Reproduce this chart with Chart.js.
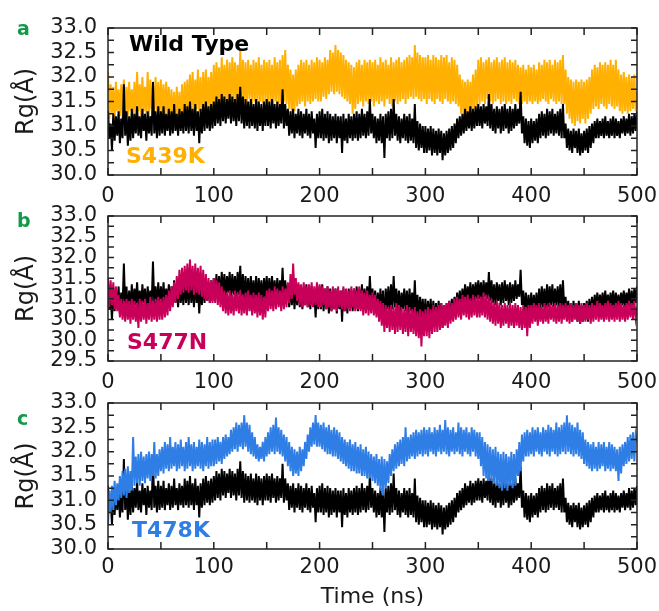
<!DOCTYPE html>
<html>
<head>
<meta charset="utf-8">
<title>Rg vs time</title>
<script src="https://cdn.jsdelivr.net/npm/chart.js@4.4.1/dist/chart.umd.min.js"></script>
<style>
  body { margin: 0; background: #fff; }
  #wrap { position: relative; width: 659px; height: 611px; overflow: hidden; font-family: "DejaVu Sans", sans-serif; }
  canvas { position: absolute; left: 0; }
  .tag { position: absolute; font-weight: bold; line-height: 1; white-space: nowrap; }
  .panel { color: #129a4a; font-size: 19px; }
  .name { font-size: 22px; }
</style>
</head>
<body>
<div id="wrap">
  <canvas id="chartA" width="659" height="205" style="top:0px"></canvas>
  <canvas id="chartB" width="659" height="190" style="top:200px"></canvas>
  <canvas id="chartC" width="659" height="226" style="top:385px"></canvas>

  <div class="tag panel" style="left:17px;top:19px">a</div>
  <div class="tag panel" style="left:17px;top:211px">b</div>
  <div class="tag panel" style="left:17px;top:409px">c</div>

  <div class="tag name" style="left:129px;top:33px;color:#000">Wild Type</div>
  <div class="tag name" style="left:126px;top:145px;color:#ffb000">S439K</div>
  <div class="tag name" style="left:127px;top:331px;color:#c8005a">S477N</div>
  <div class="tag name" style="left:132px;top:519px;color:#2f7ee6">T478K</div>
</div>

<script>

// one stored frame every 1.25 ns, 0 .. 500 ns (one row below = 50 ns)
var timeStep = 1.25;

// tick labels
var xTicks = [0, 100, 200, 300, 400, 500];
var xMarks = [0, 50, 100, 150, 200, 250, 300, 350, 400, 450, 500];
var yTicksA = [30.0, 30.5, 31.0, 31.5, 32.0, 32.5, 33.0];
var yTicksB = [29.5, 30.0, 30.5, 31.0, 31.5, 32.0, 32.5, 33.0];
var yTicksC = [30.0, 30.5, 31.0, 31.5, 32.0, 32.5, 33.0];

// Rg (Angstrom)
var wildType = [
  31.3, 30.75, 31.05, 30.5, 31.25, 30.7, 31.2, 30.8, 31.3, 30.65, 31.15, 30.75, 31.85, 30.8, 31.3, 30.6, 31.2, 30.7, 31.35, 30.75,
  31.25, 30.85, 31.4, 30.8, 31.2, 30.75, 31.35, 30.9, 31.25, 30.7, 31.3, 30.85, 31.2, 30.8, 31.9, 30.85, 31.3, 30.75, 31.4, 30.8,
  31.3, 30.85, 31.4, 30.8, 31.25, 30.9, 31.35, 30.8, 31.3, 30.85, 31.45, 30.9, 31.25, 30.8, 31.35, 30.9, 31.3, 30.85, 31.45, 30.9,
  31.4, 30.85, 31.5, 30.9, 31.35, 30.8, 31.45, 30.9, 31.3, 30.65, 31.35, 30.85, 31.45, 30.9, 31.5, 30.95, 31.4, 30.9, 31.45, 30.95,
  31.5, 31.0, 31.6, 31.05, 31.55, 31.0, 31.65, 31.1, 31.6, 31.05, 31.55, 31.15, 31.65, 31.05, 31.6, 31.1, 31.55, 31.0, 31.65, 31.1,
  31.8, 31.05, 31.6, 30.95, 31.55, 31.0, 31.5, 30.95, 31.55, 31.0, 31.45, 30.95, 31.55, 30.9, 31.5, 31.0, 31.45, 30.9, 31.5, 31.0,
  31.55, 31.0, 31.5, 30.95, 31.55, 31.05, 31.45, 30.95, 31.5, 31.0, 31.45, 31.05, 31.75, 30.95, 31.45, 31.0, 31.35, 30.8, 31.3, 30.85,
  31.35, 30.75, 31.25, 30.85, 31.35, 30.8, 31.3, 30.75, 31.25, 30.85, 31.35, 30.8, 31.25, 30.75, 31.3, 30.85, 31.15, 30.55, 31.25, 30.75,
  31.3, 30.75, 31.35, 30.7, 31.25, 30.75, 31.3, 30.65, 31.25, 30.7, 31.2, 30.75, 31.25, 30.65, 31.2, 30.75, 31.2, 30.45, 31.25, 30.7,
  31.15, 30.65, 31.25, 30.75, 31.2, 30.7, 31.25, 30.75, 31.3, 30.7, 31.25, 30.75, 31.35, 30.8, 31.25, 30.75, 31.3, 30.8, 31.55, 30.85,
  31.25, 30.75, 31.2, 30.65, 31.15, 30.7, 31.25, 30.65, 31.2, 30.35, 31.25, 30.75, 31.3, 30.7, 31.35, 30.75, 31.55, 30.8, 31.25, 30.7,
  31.2, 30.65, 31.15, 30.75, 31.25, 30.7, 31.2, 30.65, 31.25, 30.7, 31.15, 30.65, 31.45, 30.55, 31.1, 30.5, 31.05, 30.55, 31.0, 30.45,
  31.0, 30.45, 30.95, 30.5, 31.0, 30.4, 30.95, 30.45, 30.9, 30.4, 30.95, 30.45, 30.9, 30.3, 30.85, 30.4, 30.9, 30.45, 30.95, 30.5,
  31.0, 30.55, 31.05, 30.65, 31.15, 30.75, 31.2, 30.8, 31.25, 30.85, 31.35, 30.9, 31.3, 30.95, 31.4, 30.9, 31.35, 30.95, 31.4, 31.0,
  31.45, 31.0, 31.4, 30.95, 31.45, 31.05, 31.4, 31.0, 31.65, 30.95, 31.45, 30.9, 31.35, 30.85, 31.4, 30.95, 31.35, 30.85, 31.4, 30.9,
  31.45, 30.95, 31.35, 30.85, 31.4, 30.9, 31.35, 30.95, 31.45, 31.0, 31.35, 31.05, 31.7, 30.85, 31.2, 30.65, 31.15, 30.6, 31.1, 30.55,
  31.15, 30.65, 31.1, 30.7, 31.15, 30.65, 31.25, 30.75, 31.3, 30.8, 31.25, 30.75, 31.35, 30.8, 31.3, 30.85, 31.35, 30.8, 31.25, 30.85,
  31.3, 30.8, 31.35, 30.75, 31.45, 30.75, 31.05, 30.55, 30.95, 30.5, 30.9, 30.45, 30.95, 30.55, 30.9, 30.45, 30.95, 30.4, 30.85, 30.45,
  30.9, 30.5, 30.95, 30.45, 31.0, 30.55, 31.05, 30.65, 31.1, 30.75, 31.15, 30.75, 31.1, 30.8, 31.15, 30.75, 31.2, 30.8, 31.1, 30.75,
  31.15, 30.8, 31.2, 30.75, 31.15, 30.8, 31.1, 30.75, 31.15, 30.85, 31.2, 30.8, 31.15, 30.85, 31.25, 30.8, 31.2, 30.85, 31.25, 30.9,
  31.3
];

var s439k = [
  32.1, 31.15, 31.85, 31.25, 31.8, 31.1, 31.9, 31.3, 31.75, 31.2, 31.85, 31.15, 31.95, 31.25, 31.8, 31.2, 31.9, 31.3, 31.75, 31.15,
  31.9, 31.25, 32.1, 31.3, 31.85, 31.2, 32.0, 31.3, 31.8, 31.25, 32.1, 31.2, 31.95, 31.35, 31.85, 31.25, 32.0, 31.3, 31.9, 31.2,
  31.95, 31.25, 31.85, 31.15, 31.9, 31.25, 31.8, 31.1, 31.75, 31.05, 31.7, 30.95, 31.8, 31.05, 31.7, 31.0, 31.85, 31.1, 31.9, 31.15,
  31.95, 31.25, 32.05, 31.3, 32.1, 31.2, 31.95, 31.35, 32.15, 31.3, 32.0, 31.25, 32.1, 31.35, 32.15, 31.3, 32.0, 31.35, 32.1, 31.3,
  32.25, 31.35, 32.3, 31.45, 32.2, 31.4, 32.4, 31.45, 32.25, 31.5, 32.35, 31.4, 32.3, 31.45, 32.4, 31.5, 32.3, 31.4, 32.25, 31.5,
  32.55, 31.45, 32.35, 31.5, 32.3, 31.4, 32.35, 31.55, 32.25, 31.45, 32.35, 31.5, 32.3, 31.4, 32.4, 31.5, 32.25, 31.45, 32.35, 31.5,
  32.3, 31.45, 32.35, 31.5, 32.25, 31.4, 32.4, 31.5, 32.3, 31.45, 32.35, 31.4, 32.45, 31.5, 32.55, 31.45, 32.25, 31.35, 32.15, 31.25,
  32.05, 31.3, 32.15, 31.4, 32.25, 31.45, 32.35, 31.5, 32.3, 31.4, 32.35, 31.5, 32.25, 31.45, 32.35, 31.5, 32.3, 31.55, 32.4, 31.5,
  32.35, 31.5, 32.3, 31.6, 32.4, 31.55, 32.35, 31.65, 32.55, 31.7, 32.5, 31.65, 32.65, 31.7, 32.55, 31.65, 32.5, 31.6, 32.45, 31.55,
  32.35, 31.5, 32.3, 31.45, 32.25, 31.25, 32.2, 31.35, 32.3, 31.45, 32.35, 31.5, 32.25, 31.4, 32.35, 31.5, 32.3, 31.45, 32.35, 31.5,
  32.3, 31.4, 32.35, 31.5, 32.25, 31.45, 32.4, 31.5, 32.3, 31.4, 32.35, 31.55, 32.25, 31.45, 32.4, 31.4, 32.3, 31.5, 32.35, 31.45,
  32.4, 31.5, 32.3, 31.55, 32.35, 31.45, 32.4, 31.55, 32.45, 31.6, 32.4, 31.55, 32.65, 31.6, 32.5, 31.55, 32.45, 31.5, 32.4, 31.55,
  32.4, 31.45, 32.45, 31.55, 32.35, 31.5, 32.45, 31.45, 32.4, 31.55, 32.35, 31.5, 32.45, 31.45, 32.4, 31.55, 32.45, 31.5, 32.3, 31.45,
  32.4, 31.5, 32.35, 31.45, 32.25, 31.4, 32.05, 31.25, 31.95, 31.15, 31.9, 31.2, 31.95, 31.25, 31.9, 31.3, 32.05, 31.35, 32.15, 31.4,
  32.35, 31.45, 32.4, 31.5, 32.3, 31.45, 32.35, 31.55, 32.4, 31.5, 32.3, 31.45, 32.35, 31.5, 32.4, 31.55, 32.3, 31.45, 32.35, 31.5,
  32.4, 31.45, 32.3, 31.5, 32.35, 31.45, 32.3, 31.55, 32.35, 31.5, 32.25, 31.45, 32.2, 31.45, 32.25, 31.5, 32.15, 31.45, 32.25, 31.5,
  32.2, 31.45, 32.25, 31.5, 32.15, 31.45, 32.3, 31.5, 32.25, 31.55, 32.35, 31.5, 32.3, 31.45, 32.35, 31.55, 32.25, 31.5, 32.35, 31.45,
  32.3, 31.5, 32.35, 31.45, 32.45, 31.45, 32.15, 31.25, 32.0, 31.15, 31.95, 31.05, 31.9, 31.0, 31.95, 31.1, 31.9, 31.05, 31.95, 31.15,
  31.9, 31.05, 31.95, 31.15, 32.0, 31.25, 32.15, 31.35, 32.25, 31.4, 32.2, 31.35, 32.3, 31.45, 32.25, 31.4, 32.3, 31.35, 32.25, 31.45,
  32.35, 31.4, 32.25, 31.35, 32.35, 31.4, 32.15, 31.3, 32.05, 31.25, 32.1, 31.3, 32.0, 31.25, 32.05, 31.3, 32.0, 31.35, 32.05, 31.3,
  31.7
];

var s477n = [
  31.5, 30.8, 31.45, 30.85, 31.4, 30.75, 31.3, 30.7, 31.1, 30.55, 31.0, 30.5, 30.95, 30.45, 31.0, 30.5, 30.95, 30.4, 31.0, 30.5,
  30.95, 30.45, 30.9, 30.3, 31.0, 30.45, 30.95, 30.5, 31.0, 30.4, 30.9, 30.5, 31.05, 30.45, 30.95, 30.5, 31.0, 30.45, 31.05, 30.5,
  31.0, 30.5, 31.05, 30.55, 31.1, 30.6, 31.2, 30.7, 31.3, 30.8, 31.4, 30.9, 31.55, 31.0, 31.7, 31.1, 31.75, 31.15, 31.8, 31.2,
  31.85, 31.15, 31.95, 31.2, 31.8, 31.1, 31.85, 31.15, 31.75, 31.1, 31.8, 31.05, 31.7, 31.0, 31.6, 30.95, 31.5, 30.9, 31.45, 30.9,
  31.5, 30.9, 31.45, 30.85, 31.4, 30.8, 31.3, 30.7, 31.2, 30.65, 31.15, 30.6, 31.2, 30.65, 31.1, 30.6, 31.2, 30.7, 31.15, 30.65,
  31.2, 30.6, 31.1, 30.65, 31.15, 30.6, 31.2, 30.7, 31.1, 30.6, 31.15, 30.65, 31.1, 30.55, 31.15, 30.6, 31.1, 30.5, 31.05, 30.55,
  31.2, 30.7, 31.25, 30.75, 31.2, 30.7, 31.3, 30.75, 31.25, 30.8, 31.2, 30.7, 31.3, 30.75, 31.25, 30.8, 31.4, 30.9, 31.6, 31.0,
  31.85, 31.1, 31.5, 30.95, 31.4, 30.85, 31.35, 30.8, 31.4, 30.85, 31.3, 30.8, 31.35, 30.85, 31.4, 30.8, 31.3, 30.85, 31.4, 30.8,
  31.35, 30.8, 31.3, 30.85, 31.25, 30.75, 31.3, 30.8, 31.2, 30.7, 31.3, 30.75, 31.25, 30.7, 31.3, 30.8, 31.2, 30.75, 31.3, 30.7,
  31.25, 30.75, 31.2, 30.7, 31.3, 30.8, 31.25, 30.7, 31.2, 30.75, 31.3, 30.7, 31.2, 30.6, 31.15, 30.65, 31.2, 30.6, 31.1, 30.65,
  31.15, 30.6, 31.1, 30.55, 31.0, 30.45, 30.95, 30.35, 30.9, 30.2, 30.85, 30.3, 30.8, 30.2, 30.85, 30.25, 30.8, 30.15, 30.9, 30.2,
  30.85, 30.25, 30.8, 30.15, 30.75, 30.2, 30.85, 30.1, 30.8, 30.2, 30.75, 30.15, 30.8, 30.1, 30.7, 30.05, 30.75, 29.85, 30.7, 30.1,
  30.75, 30.1, 30.8, 30.05, 30.75, 30.15, 30.85, 30.2, 30.8, 30.2, 30.85, 30.25, 30.9, 30.3, 30.85, 30.35, 30.9, 30.3, 30.95, 30.4,
  30.9, 30.45, 31.0, 30.5, 31.05, 30.55, 31.0, 30.5, 31.1, 30.6, 31.05, 30.55, 31.1, 30.5, 31.0, 30.55, 31.1, 30.6, 31.05, 30.55,
  31.1, 30.55, 31.05, 30.6, 31.15, 30.55, 31.1, 30.5, 31.05, 30.45, 31.0, 30.4, 30.9, 30.35, 30.95, 30.4, 30.9, 30.3, 30.85, 30.35,
  30.9, 30.4, 30.85, 30.3, 30.9, 30.35, 30.85, 30.3, 30.9, 30.35, 30.85, 30.3, 30.8, 30.25, 30.85, 30.3, 30.8, 30.1, 30.85, 30.3,
  30.85, 30.4, 30.9, 30.45, 30.85, 30.35, 30.9, 30.45, 30.8, 30.4, 30.9, 30.45, 30.85, 30.4, 30.9, 30.5, 30.85, 30.45, 30.9, 30.4,
  30.85, 30.45, 30.9, 30.4, 30.85, 30.5, 30.9, 30.45, 30.85, 30.4, 30.9, 30.45, 30.85, 30.5, 30.9, 30.45, 30.85, 30.4, 30.9, 30.45,
  30.85, 30.45, 30.9, 30.5, 30.85, 30.4, 30.9, 30.45, 30.85, 30.5, 30.95, 30.45, 30.9, 30.5, 30.85, 30.45, 30.9, 30.5, 30.95, 30.45,
  30.9, 30.5, 30.85, 30.45, 30.9, 30.5, 30.95, 30.45, 30.9, 30.5, 30.85, 30.45, 30.9, 30.5, 30.95, 30.55, 30.9, 30.5, 30.95, 30.55,
  30.8
];

var t478k = [
  30.5, 31.2, 30.75, 31.3, 30.8, 31.4, 30.9, 31.35, 31.0, 31.5, 31.05, 31.6, 31.1, 31.65, 31.05, 31.7, 31.15, 31.6, 31.2, 32.3,
  31.3, 31.9, 31.35, 31.95, 31.3, 32.0, 31.4, 31.9, 31.35, 31.95, 31.45, 32.0, 31.4, 31.95, 31.5, 32.2, 31.45, 31.95, 31.5, 32.05,
  31.6, 32.1, 31.55, 32.2, 31.65, 32.15, 31.6, 32.3, 31.65, 32.1, 31.7, 32.2, 31.6, 32.15, 31.65, 32.25, 31.7, 32.1, 31.6, 32.2,
  31.65, 32.3, 31.7, 32.15, 31.6, 32.2, 31.65, 32.1, 31.7, 32.25, 31.65, 32.2, 31.6, 32.15, 31.7, 32.3, 31.65, 32.2, 31.7, 32.25,
  31.7, 32.25, 31.75, 32.3, 31.8, 32.2, 31.75, 32.3, 31.85, 32.35, 31.9, 32.3, 31.95, 32.45, 32.0, 32.5, 32.05, 32.6, 32.0, 32.55,
  32.1, 32.6, 32.05, 32.75, 32.1, 32.6, 32.0, 32.55, 31.95, 32.4, 31.9, 32.3, 31.85, 32.15, 31.8, 32.1, 31.85, 32.2, 31.8, 32.3,
  31.9, 32.4, 31.95, 32.5, 32.0, 32.55, 31.95, 32.7, 32.0, 32.5, 31.95, 32.45, 31.9, 32.35, 31.8, 32.3, 31.7, 32.2, 31.6, 32.1,
  31.5, 32.05, 31.55, 32.0, 31.5, 32.1, 31.6, 32.05, 31.7, 32.2, 31.85, 32.35, 32.0, 32.5, 32.1, 32.6, 32.15, 32.75, 32.1, 32.6,
  32.1, 32.55, 32.05, 32.6, 32.0, 32.5, 31.95, 32.55, 31.95, 32.45, 31.9, 32.5, 31.9, 32.45, 31.85, 32.4, 31.8, 32.3, 31.75, 32.25,
  31.7, 32.2, 31.65, 32.25, 31.6, 32.15, 31.6, 32.2, 31.55, 32.1, 31.55, 32.15, 31.5, 32.05, 31.5, 32.1, 31.45, 32.0, 31.45, 31.95,
  31.4, 31.9, 31.35, 31.95, 31.3, 31.85, 31.2, 31.9, 31.1, 31.85, 31.25, 31.8, 31.35, 31.95, 31.5, 32.05, 31.6, 32.15, 31.65, 32.2,
  31.7, 32.25, 31.75, 32.3, 31.7, 32.5, 31.8, 32.3, 31.85, 32.35, 31.9, 32.4, 31.85, 32.45, 31.9, 32.4, 31.95, 32.45, 31.9, 32.5,
  31.95, 32.45, 31.9, 32.5, 32.0, 32.4, 31.95, 32.5, 31.9, 32.45, 32.0, 32.55, 31.95, 32.45, 32.0, 32.65, 31.95, 32.5, 31.9, 32.45,
  32.0, 32.5, 31.95, 32.4, 32.0, 32.6, 31.95, 32.5, 31.9, 32.45, 32.0, 32.5, 31.95, 32.4, 31.9, 32.5, 32.0, 32.45, 31.9, 32.4,
  31.85, 32.4, 31.7, 32.3, 31.5, 32.2, 31.45, 32.15, 31.4, 32.1, 31.4, 32.05, 31.35, 32.1, 31.3, 32.0, 31.25, 31.95, 31.2, 32.0,
  31.25, 31.95, 31.2, 31.9, 31.3, 32.0, 31.25, 31.95, 31.3, 32.05, 31.5, 32.2, 31.6, 32.35, 31.8, 32.4, 31.9, 32.45, 31.9, 32.4,
  31.95, 32.5, 31.9, 32.45, 32.0, 32.5, 31.95, 32.4, 31.9, 32.5, 32.0, 32.45, 31.95, 32.55, 31.9, 32.5, 32.0, 32.45, 31.95, 32.6,
  31.9, 32.5, 31.95, 32.55, 32.0, 32.6, 31.95, 32.75, 32.0, 32.6, 31.95, 32.55, 31.9, 32.5, 31.95, 32.6, 31.9, 32.45, 31.85, 32.4,
  31.75, 32.25, 31.7, 32.2, 31.65, 32.15, 31.6, 32.2, 31.65, 32.1, 31.6, 32.2, 31.65, 32.15, 31.7, 32.2, 31.6, 32.1, 31.65, 32.2,
  31.6, 32.15, 31.65, 32.1, 31.6, 32.05, 31.4, 32.1, 31.55, 32.15, 31.7, 32.2, 31.75, 32.3, 31.8, 32.35, 31.85, 32.4, 31.8, 32.35,
  32.2
];

function toPoints(values){
  return values.map(function(v, i){ return { x: i * timeStep, y: v }; });
}

// frame around the plot and the small inward ticks on all four sides
var frameTicks = {
  id: 'frameTicks',
  afterDatasetsDraw: function(chart){
    var ctx = chart.ctx, a = chart.chartArea;
    var xs = chart.scales.x, ys = chart.scales.y;
    var yt = chart.options.scales.y.tickList;
    ctx.save();
    ctx.strokeStyle = '#222';
    ctx.lineWidth = 1.5;
    ctx.beginPath();
    xMarks.forEach(function(t){
      var px = xs.getPixelForValue(t);
      ctx.moveTo(px, a.bottom); ctx.lineTo(px, a.bottom - 7);
      ctx.moveTo(px, a.top); ctx.lineTo(px, a.top + 7);
    });
    for (var i = 0; i < yt.length; i++) {
      var marks = [yt[i]];
      if (i < yt.length - 1) marks.push((yt[i] + yt[i + 1]) / 2);
      marks.forEach(function(v){
        var py = ys.getPixelForValue(v);
        ctx.moveTo(a.left, py); ctx.lineTo(a.left + 6, py);
        ctx.moveTo(a.right, py); ctx.lineTo(a.right - 6, py);
      });
    }
    ctx.stroke();
    ctx.strokeRect(a.left, a.top, a.right - a.left, a.bottom - a.top);
    ctx.restore();
  }
};

function drawPanel(canvasId, mutant, mutColor, yList, mutantOnTop, padTop, axisHeight, tickPad, showTime){

  var wt = { data: toPoints(wildType), borderColor: '#000', borderWidth: 2, pointRadius: 0, tension: 0 };
  var mu = { data: toPoints(mutant), borderColor: mutColor, borderWidth: 2, pointRadius: 0, tension: 0 };

  var ctx = document.getElementById(canvasId).getContext('2d');
  return new Chart(ctx, {
    type: 'line',
    data: {
      // first dataset is painted last, so it ends up on top
      datasets: mutantOnTop ? [mu, wt] : [wt, mu]
    },
    plugins: [frameTicks],
    options: {
      responsive: false,
      animation: false,
      layout: { padding: { top: padTop, right: 22, bottom: 0, left: 0 } },
      plugins: { legend: { display: false }, tooltip: { enabled: false } },
      scales: {
        x: {
          type: 'linear', min: 0, max: 500,
          grid: { display: false, drawTicks: false },
          border: { display: false },
          afterBuildTicks: function(s){ s.ticks = xTicks.map(function(v){ return { value: v }; }); },
          afterFit: function(s){ s.height = axisHeight; s.paddingLeft = 0; s.paddingRight = 0; },
          ticks: {
            padding: tickPad, color: '#1a1a1a', maxRotation: 0, autoSkip: false,
            font: { family: 'DejaVu Sans', size: 21 }
          },
          title: {
            display: showTime, text: 'Time (ns)', color: '#1a1a1a',
            font: { family: 'DejaVu Sans', size: 22, lineHeight: 1.2 },
            padding: { top: 0, bottom: 1 }
          }
        },
        y: {
          min: yList[0], max: yList[yList.length - 1],
          tickList: yList,
          grid: { display: false, drawTicks: false },
          border: { display: false },
          afterBuildTicks: function(s){ s.ticks = yList.map(function(v){ return { value: v }; }); },
          afterFit: function(s){ s.width = 108; s.paddingTop = 0; s.paddingBottom = 0; },
          ticks: {
            padding: 11, color: '#1a1a1a', autoSkip: false,
            font: { family: 'DejaVu Sans', size: 21 },
            callback: function(v){ return Number(v).toFixed(1); }
          },
          title: {
            display: true, text: 'Rg(Å)', color: '#1a1a1a',
            font: { family: 'DejaVu Sans', size: 24, lineHeight: 1.2 },
            padding: { top: 12, bottom: 0 }
          }
        }
      }
    }
  });
}

drawPanel('chartA', s439k, '#ffb000', yTicksA, false, 28, 30, 9, false);
drawPanel('chartB', s477n, '#c8005a', yTicksB, true, 16, 29, 9, false);
drawPanel('chartC', t478k, '#2f7ee6', yTicksC, true, 18, 62, 6, true);

</script>
</body>
</html>
